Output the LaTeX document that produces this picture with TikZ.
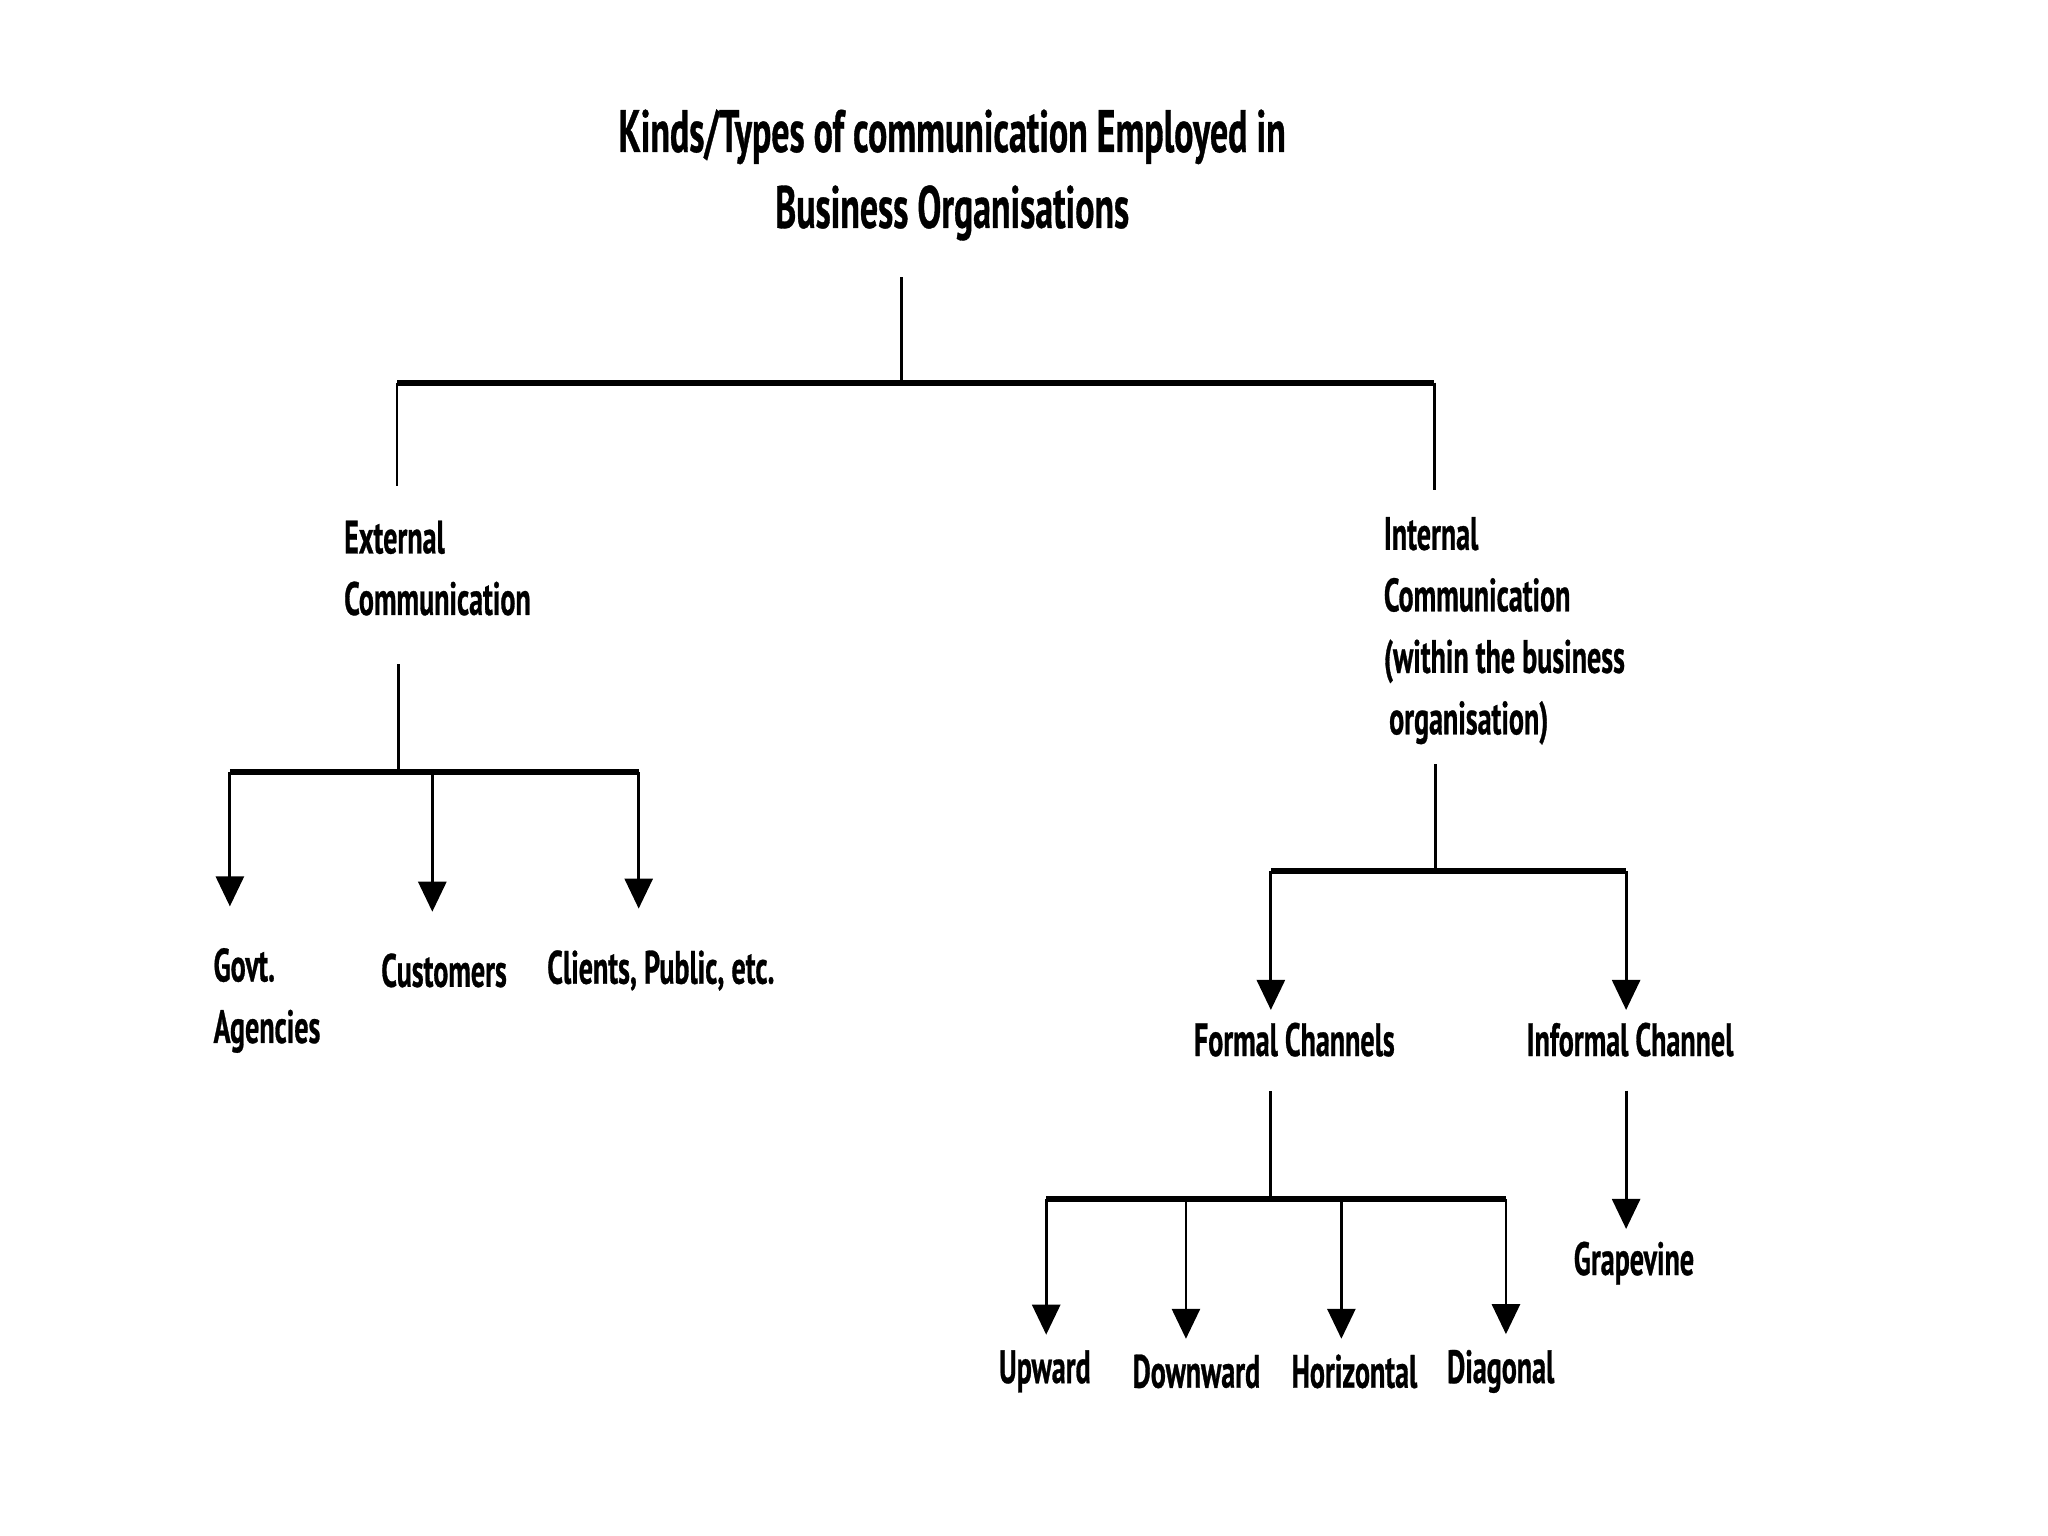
\documentclass[tikz,border=0pt]{standalone}
\usepackage{fontspec}
\setmainfont{PT Sans}[FakeStretch=0.6, BoldFeatures={FakeBold=0.6}]
\usetikzlibrary{arrows.meta}

\begin{document}
\begin{tikzpicture}[x=0.13062mm, y=-0.13062mm,
  bar/.style={line width=1.7pt},
  stem/.style={line width=0.8pt},
  arr/.style={stem, -{Triangle[length=3mm,width=2.8mm]}},
  lbl/.style={font=\bfseries\fontsize{13.3}{17.5}\selectfont, align=left, inner sep=0pt},
  head/.style={font=\bfseries\fontsize{17}{21.6}\selectfont, align=center, inner sep=0pt}]
\useasboundingbox (0,0) rectangle (20.48cm,-15.36cm);

% title
\node[head] (title) at (729,134) {Kinds/Types of communication Employed in\\Business Organisations};
\coordinate (tb) at (690,293);
\draw[stem] (tb) -- ++(0,-81);
\draw[bar] (304,293) coordinate (tl) -- (1098,293) coordinate (tr);

% external side
\node[lbl, anchor=west] (ext) at (263,435) {External\\Communication};
\draw[stem] (tl) -- ++(0,79);
\coordinate (eb) at (305,591);
\draw[stem] (eb) -- ++(0,-83);
\draw[bar] (176,591) coordinate (e1) -- (489,591) coordinate (e3);
\coordinate (e2) at (331,591);
\node[lbl, anchor=west] (govt) at (163,766) {Govt.\\Agencies};
\node[lbl] (cust) at (340,743) {Customers};
\node[lbl] (clients) at (506,743) {Clients, Public, etc.};
\draw[arr, shorten >=4.1mm] (e1) -- (e1 |- govt.north);
\draw[arr, shorten >=4.1mm] (e2) -- (e2 |- cust.north);
\draw[arr, shorten >=4.1mm] (e3) -- (e3 |- clients.north);

% internal side
\node[lbl, anchor=west] (int) at (1059,483) {Internal\\Communication\\(within the business\\\hspace{1.5pt}organisation)};
\draw[stem] (tr) -- ++(0,82);
\coordinate (ib) at (1099,667);
\draw[stem] (ib) -- ++(0,-82);
\draw[bar] (973,667) coordinate (i1) -- (1245,667) coordinate (i2);
\node[lbl] (formal) at (991,796) {Formal Channels};
\node[lbl] (informal) at (1248,796) {Informal Channel};
\draw[arr, shorten >=1.2mm] (i1) -- (i1 |- formal.north);
\draw[arr, shorten >=1.2mm] (i2) -- (i2 |- informal.north);

% formal channels
\coordinate (fb) at (973,918);
\draw[stem] (fb) -- ++(0,-83);
\draw[bar] (801,918) coordinate (f1) -- (1153,918) coordinate (f4);
\coordinate (f2) at (908,918);
\coordinate (f3) at (1027,918);
\node[lbl] (up) at (800,1050) {Upward};
\node[lbl] (down) at (916,1050) {Downward};
\node[lbl] (hor) at (1037,1050) {Horizontal};
\node[lbl] (diag) at (1149,1050) {Diagonal};
\draw[arr, shorten >=1.5mm] (f1) -- (f1 |- up.north);
\draw[arr, shorten >=1.5mm] (f2) -- (f2 |- down.north);
\draw[arr, shorten >=1.5mm] (f3) -- (f3 |- hor.north);
\draw[arr, shorten >=1.5mm] (f4) -- (f4 |- diag.north);

% informal channel
\node[lbl] (grape) at (1251,967) {Grapevine};
\coordinate (gs) at (1245,835);
\draw[arr, shorten >=1.2mm] (gs) -- (gs |- grape.north);
\end{tikzpicture}
\end{document}
